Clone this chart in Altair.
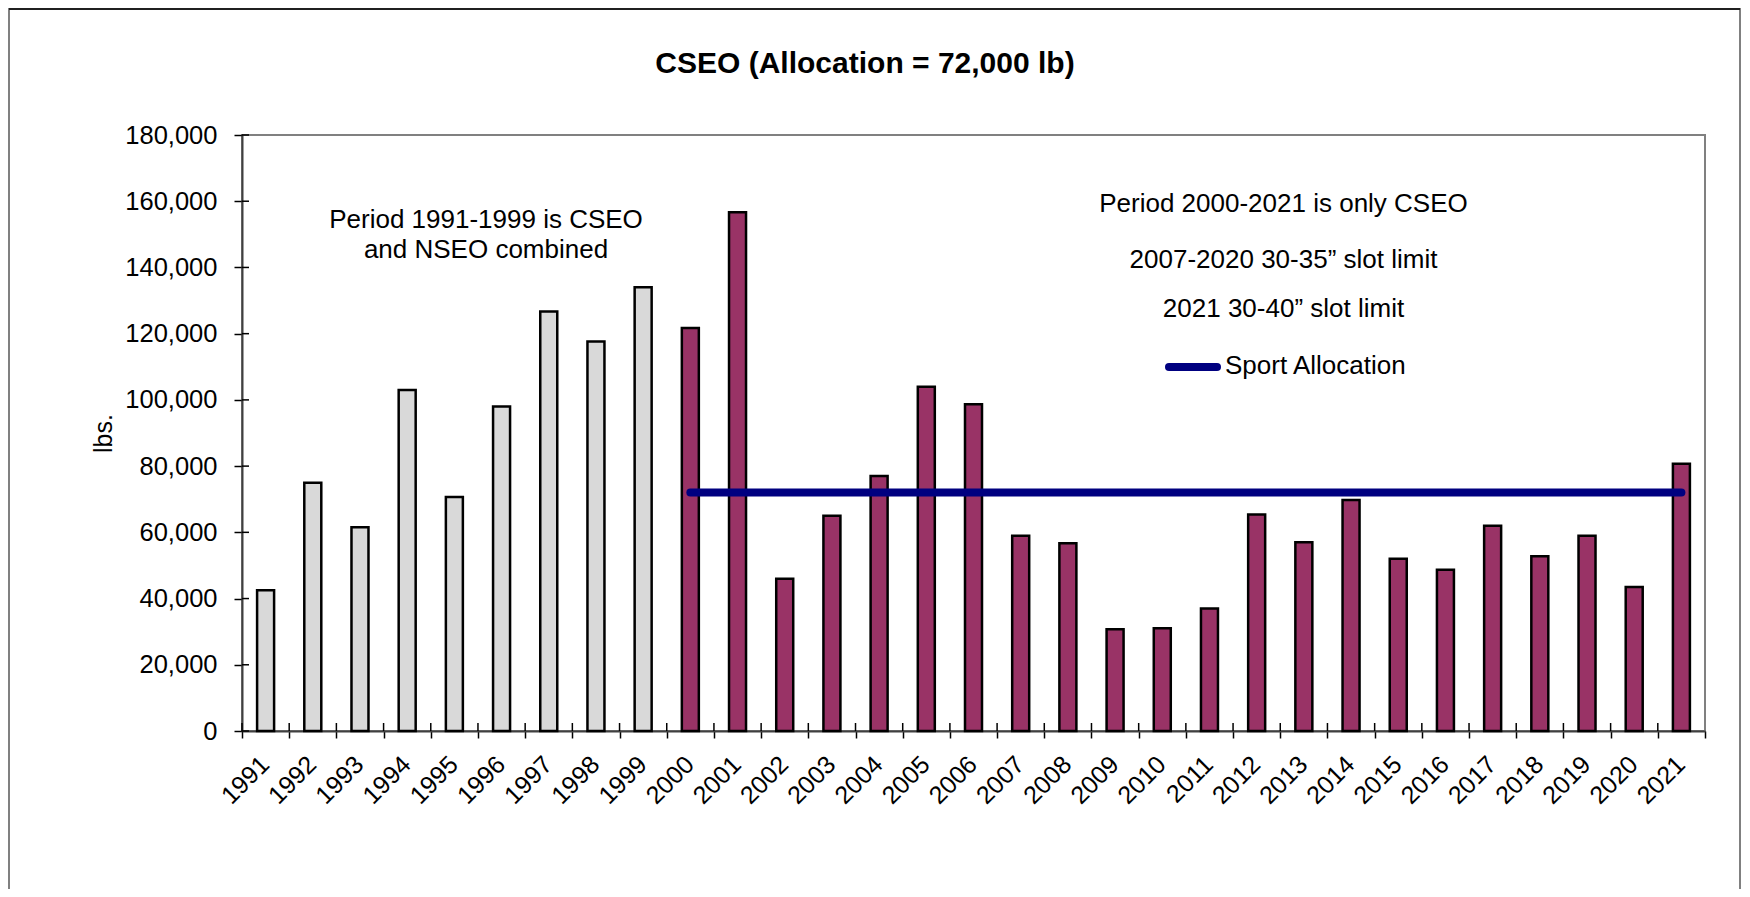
import altair as alt
import pandas as pd

years = [str(y) for y in range(1991, 2022)]
values = [42500, 75000, 61500, 103000, 70700, 98000, 126700, 117600, 134000,
          121700, 156700, 46000, 65000, 77000, 104000, 98700, 59000, 56700,
          30700, 31000, 37000, 65400, 57000, 69800, 52000, 48700, 62000,
          52800, 59000, 43500, 80700]
periods = ["combined" if int(y) < 2000 else "cseo" for y in years]
allocation_years = [str(y) for y in range(2000, 2022)]
allocation_value = 72000
y_ticks = list(range(0, 180001, 20000))

title_text = "CSEO (Allocation = 72,000 lb)"
note_left = ["Period 1991-1999 is CSEO", "and NSEO combined"]
note_right = ["Period 2000-2021 is only CSEO", "2007-2020 30-35\u201d slot limit", "2021 30-40\u201d slot limit"]
legend_label = "Sport Allocation"

FONT = "Liberation Sans"
W, H = 1463, 596

df = pd.DataFrame({"year": years, "value": values, "period": periods})
alloc_df = pd.DataFrame({"year": allocation_years, "value": [allocation_value] * len(allocation_years)})
ticks_df = pd.DataFrame({"v": y_ticks})
one = pd.DataFrame({"a": [0]})

xscale = alt.Scale(domain=years, paddingInner=0, paddingOuter=0)
yscale = alt.Scale(domain=[0, 180000], nice=False)

bars = alt.Chart(df).mark_bar(width=17, stroke="black", strokeWidth=2.5).encode(
    x=alt.X("year:O", scale=xscale, title=None,
            axis=alt.Axis(labelAngle=-45, labelAlign="right", labelBaseline="middle",
                          labelFontSize=25, labelFont=FONT, labelColor="black",
                          labelPadding=22, labelOffset=-1,
                          tickBand="extent", tickSize=7, tickColor="black", tickWidth=1.5,
                          domainColor="#404040", domainWidth=2)),
    y=alt.Y("value:Q", scale=yscale, title="lbs.",
            axis=alt.Axis(values=y_ticks, format=",d", labelFontSize=25.5, labelFont=FONT,
                          labelColor="black", labelPadding=17, tickSize=8,
                          tickColor="black", tickWidth=1.5, grid=False,
                          domainColor="#404040", domainWidth=2,
                          titleFont=FONT, titleFontSize=25, titleFontWeight="normal",
                          titleColor="black", titleAngle=-90, titleX=-131, titleY=H / 2,
                          titleBaseline="alphabetic", titleAlign="center")),
    color=alt.Color("period:N", scale=alt.Scale(domain=["combined", "cseo"],
                                                range=["#D9D9D9", "#993366"]), legend=None),
)

x_inner_ticks = alt.Chart(df).mark_rule(color="black", strokeWidth=1.5).encode(
    x=alt.X("year:O", scale=xscale, bandPosition=0),
    y=alt.value(H - 8), y2=alt.value(H),
)
y_inner_ticks = alt.Chart(ticks_df).mark_rule(color="black", strokeWidth=1.5).encode(
    y=alt.Y("v:Q", scale=yscale), x=alt.value(0), x2=alt.value(7),
)

alloc = alt.Chart(alloc_df).mark_line(color="#000080", strokeWidth=8, strokeCap="round").encode(
    x=alt.X("year:O", scale=xscale), y=alt.Y("value:Q", scale=yscale),
)

def txt(text, x, y, size=26, weight="normal", align="center"):
    return alt.Chart(one).mark_text(text=text, font=FONT, fontSize=size, fontWeight=weight,
                                    align=align, baseline="alphabetic", color="black").encode(
        x=alt.value(x), y=alt.value(y))

title = txt(title_text, 623, -62, size=30, weight="bold")
n1 = txt(note_left[0], 244, 93)
n2 = txt(note_left[1], 244, 123)
r1 = txt(note_right[0], 1041.5, 77)
r2 = txt(note_right[1], 1041.5, 133)
r3 = txt(note_right[2], 1041.5, 182)
leg_text = txt(legend_label, 983, 239, align="left")
leg_line = alt.Chart(one).mark_rule(color="#000080", strokeWidth=8, strokeCap="round").encode(
    x=alt.value(927), x2=alt.value(975), y=alt.value(232))

frame = alt.Chart(one).mark_rect(fill=None, stroke="#808080", strokeWidth=2, clip=False).encode(
    x=alt.value(-233), x2=alt.value(1498), y=alt.value(-126), y2=alt.value(900))
frame_top = alt.Chart(one).mark_rule(color="#202020", strokeWidth=2).encode(
    x=alt.value(-233), x2=alt.value(1498), y=alt.value(-126))

chart = alt.layer(
    frame, frame_top, bars, x_inner_ticks, y_inner_ticks, alloc,
    title, n1, n2, r1, r2, r3, leg_line, leg_text,
).properties(
    width=W, height=H,
    autosize=alt.AutoSizeParams(type="none"),
    padding={"left": 234, "top": 127, "right": 37, "bottom": 158},
    background="white",
).configure_view(stroke="#808080", strokeWidth=2)

chart.save("out.html", embed_options={"renderer": "svg", "actions": False})
